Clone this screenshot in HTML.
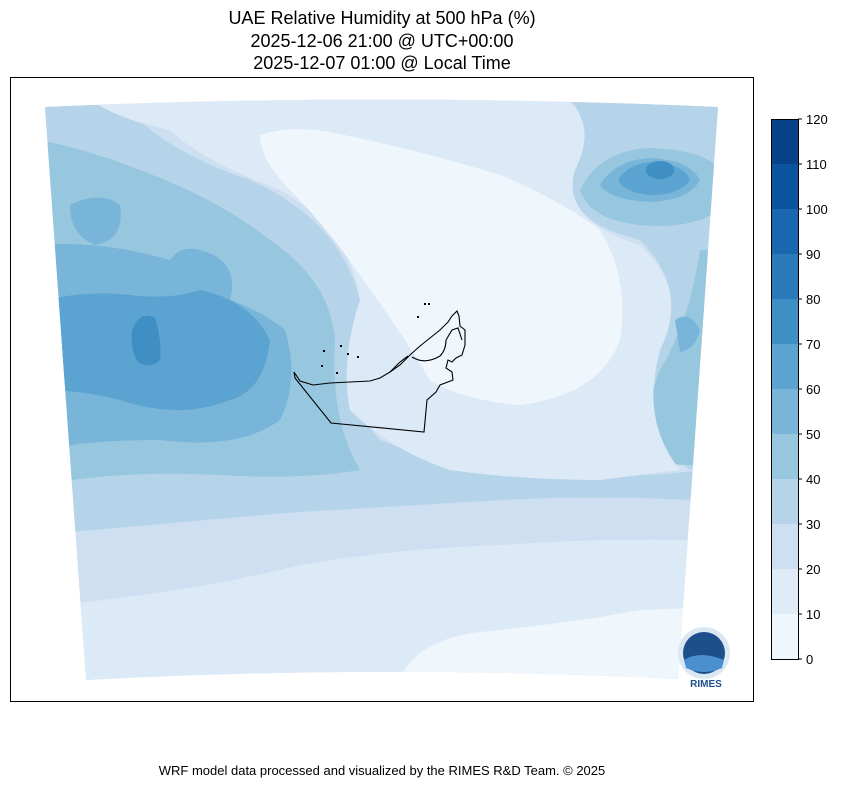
<!DOCTYPE html>
<html><head><meta charset="utf-8"><style>
html,body{margin:0;padding:0;background:#fff;}
body{width:844px;height:788px;position:relative;font-family:"Liberation Sans",sans-serif;}
</style></head><body>
<svg width="844" height="788" viewBox="0 0 844 788" xmlns="http://www.w3.org/2000/svg" font-family="Liberation Sans, sans-serif">
<rect width="844" height="788" fill="#fff"/>
<text x="382" y="24" font-size="18" text-anchor="middle">UAE Relative Humidity at 500 hPa (%)</text>
<text x="382" y="47" font-size="18" text-anchor="middle">2025-12-06 21:00 @ UTC+00:00</text>
<text x="382" y="69" font-size="18" text-anchor="middle">2025-12-07 01:00 @ Local Time</text>
<defs>
<clipPath id="m"><path d="M45,107 Q380,92 718,107 L678,679 Q380,664 86,680 Z"/></clipPath>
</defs>
<g clip-path="url(#m)">
<rect x="40" y="90" width="690" height="600" fill="#cddff1"/>
<!-- 30-40 -->
<path d="M40,90 L40,535 Q200,520 300,512 Q420,505 500,500 Q600,495 690,500 L700,470 Q640,480 560,470 Q450,470 380,440 Q340,400 360,300 Q340,220 250,180 Q160,150 120,100 Z" fill="#b5d4e9"/>
<path d="M560,90 L730,90 L730,470 L690,470 Q640,430 660,350 Q690,290 640,240 Q560,220 570,170 Q600,120 560,90 Z" fill="#b5d4e9"/>
<!-- 40-50 -->
<path d="M40,140 Q90,150 140,170 Q220,200 270,240 Q330,280 335,340 Q330,420 360,470 Q300,480 220,475 Q120,470 40,485 Z" fill="#97c6df"/>
<path d="M580,190 Q600,150 650,148 Q705,150 720,170 L720,210 Q690,230 640,225 Q590,220 580,190 Z" fill="#97c6df"/>
<path d="M700,250 L730,250 L730,460 Q690,470 650,460 Q640,420 660,370 Q690,320 700,250 Z" fill="#97c6df"/>
<!-- 50-60 -->
<path d="M40,245 Q100,240 170,260 Q180,245 200,250 Q240,260 230,300 Q260,310 285,330 Q300,380 280,420 Q240,450 160,440 Q90,440 40,450 Z" fill="#79b5d9"/>
<path d="M70,205 Q100,190 120,205 Q125,240 95,245 Q70,235 70,205 Z" fill="#79b5d9"/>
<path d="M600,185 Q615,160 650,158 Q690,160 700,180 Q690,200 650,202 Q610,200 600,185 Z" fill="#79b5d9"/>
<path d="M675,320 Q690,310 700,330 Q695,350 680,352 Z" fill="#79b5d9"/>
<!-- 60-70 -->
<path d="M45,300 Q90,290 130,295 Q170,300 200,290 Q250,300 270,340 Q265,390 230,400 Q180,420 120,400 Q80,390 45,390 Z" fill="#5ba3d0"/>
<path d="M618,180 Q630,162 655,162 Q685,165 690,180 Q680,195 650,195 Q625,193 618,180 Z" fill="#5ba3d0"/>
<!-- 70-80 -->
<path d="M132,330 Q140,310 155,318 Q162,340 160,360 Q150,370 138,362 Q130,350 132,330 Z" fill="#3f8fc5"/>
<ellipse cx="660" cy="170" rx="14" ry="9" fill="#3f8fc5"/>
<ellipse cx="56" cy="350" rx="10" ry="25" fill="#5ba3d0"/>
<!-- 10-20 -->
<path d="M90,100 L560,95 Q600,120 575,170 Q560,220 640,245 Q690,290 660,350 Q640,420 680,470 L600,480 Q520,480 450,470 Q390,450 350,410 Q340,360 360,300 Q350,230 280,190 Q200,160 170,130 Q120,120 90,100 Z" fill="#dce9f6"/>
<path d="M60,605 Q200,590 300,565 Q400,548 500,545 Q600,538 690,540 L690,690 L60,690 Z" fill="#dce9f6"/>
<!-- 0-10 -->
<path d="M260,135 Q290,125 330,132 Q420,150 500,175 Q560,200 600,230 Q630,280 620,340 Q600,395 520,405 Q460,400 430,380 Q400,330 370,290 Q330,230 290,190 Q260,160 260,135 Z" fill="#eff6fc"/>
<path d="M395,690 Q410,640 480,632 Q580,622 640,610 L690,608 L690,690 Z" fill="#eff6fc"/>
</g>
<!-- UAE outline -->
<g fill="none" stroke="#000" stroke-width="1.1">
<path d="M294,372 L300,381 L313,385 L330,383 L350,382 L370,381 L380,378 L390,372 L400,365 L410,355 L420,346 L430,338 L440,330 L448,322 L452,316 L457,311 L459,316 L460,326 L465,330 L465,345 L462,355 L456,358 L452,362 L448,360 L446,368 L452,372 L453,380 L440,385 L436,392 L427,400 L424,432 L331,423 L295,378 Z"/>
<path d="M412,357 Q425,365 440,356 Q446,350 446,340"/>
<path d="M446,340 L452,330 L458,328 L462,340"/>
<path d="M390,372 L400,362 L408,356"/>
</g>
<g fill="#000"><rect x="424" y="303" width="2" height="2"/><rect x="428" y="303" width="2" height="2"/><rect x="417" y="316" width="2" height="2"/><rect x="323" y="350" width="2" height="2"/><rect x="340" y="345" width="2" height="2"/><rect x="347" y="353" width="2" height="2"/><rect x="321" y="365" width="2" height="2"/><rect x="336" y="372" width="2" height="2"/><rect x="357" y="356" width="2" height="2"/></g>
<!-- logo -->
<circle cx="704" cy="653" r="26" fill="#dbe7f3"/>
<circle cx="704" cy="653" r="21" fill="#1d4f8a"/>
<path d="M684,660 Q700,650 724,660 L722,668 Q704,676 686,668 Z" fill="#4a90d0"/>
<text x="706" y="687" font-size="10" font-weight="bold" fill="#1d4f8a" text-anchor="middle">RIMES</text>
<rect x="10.5" y="77.5" width="743" height="624" fill="none" stroke="#000" stroke-width="1"/>
<!-- colorbar -->
<g>
<rect x="771" y="614" width="27" height="45" fill="#f0f6fd"/>
<rect x="771" y="569" width="27" height="45" fill="#dfebf7"/>
<rect x="771" y="524" width="27" height="45" fill="#cddff1"/>
<rect x="771" y="479" width="27" height="45" fill="#b5d4e9"/>
<rect x="771" y="434" width="27" height="45" fill="#97c6df"/>
<rect x="771" y="389" width="27" height="45" fill="#79b5d9"/>
<rect x="771" y="344" width="27" height="45" fill="#5ba3d0"/>
<rect x="771" y="299" width="27" height="45" fill="#3f8fc5"/>
<rect x="771" y="254" width="27" height="45" fill="#2b7bba"/>
<rect x="771" y="209" width="27" height="45" fill="#1a67af"/>
<rect x="771" y="164" width="27" height="45" fill="#0b559f"/>
<rect x="771" y="119" width="27" height="45" fill="#08428a"/>
<rect x="771.5" y="119.5" width="27" height="540" fill="none" stroke="#000" stroke-width="1"/>
<g stroke="#000"><line x1="798" y1="659" x2="802" y2="659"/><line x1="798" y1="614" x2="802" y2="614"/><line x1="798" y1="569" x2="802" y2="569"/><line x1="798" y1="524" x2="802" y2="524"/><line x1="798" y1="479" x2="802" y2="479"/><line x1="798" y1="434" x2="802" y2="434"/><line x1="798" y1="389" x2="802" y2="389"/><line x1="798" y1="344" x2="802" y2="344"/><line x1="798" y1="299" x2="802" y2="299"/><line x1="798" y1="254" x2="802" y2="254"/><line x1="798" y1="209" x2="802" y2="209"/><line x1="798" y1="164" x2="802" y2="164"/><line x1="798" y1="119" x2="802" y2="119"/></g>
<g font-size="13" fill="#000"><text x="806" y="664">0</text><text x="806" y="619">10</text><text x="806" y="574">20</text><text x="806" y="529">30</text><text x="806" y="484">40</text><text x="806" y="439">50</text><text x="806" y="394">60</text><text x="806" y="349">70</text><text x="806" y="304">80</text><text x="806" y="259">90</text><text x="806" y="214">100</text><text x="806" y="169">110</text><text x="806" y="124">120</text></g>
</g>
<text x="382" y="775" font-size="13" text-anchor="middle">WRF model data processed and visualized by the RIMES R&amp;D Team. © 2025</text>
</svg>
</body></html>
